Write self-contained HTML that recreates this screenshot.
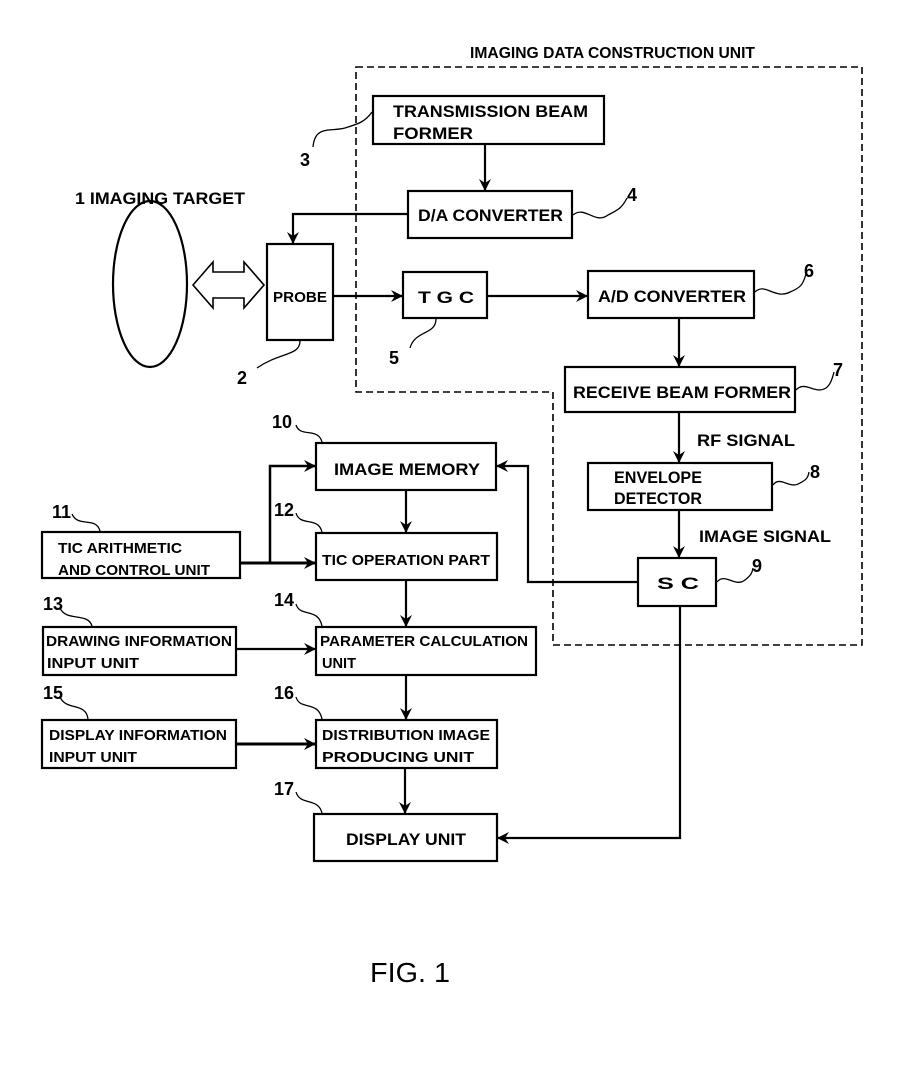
<!DOCTYPE html>
<html><head><meta charset="utf-8"><style>
html,body{margin:0;padding:0;background:#fff;}
svg{display:block;}
text{font-family:"Liberation Sans",sans-serif;fill:#000;font-weight:bold;}
</style></head><body>
<svg width="921" height="1087" viewBox="0 0 921 1087" xmlns="http://www.w3.org/2000/svg">
<defs>
<marker id="a" markerWidth="12" markerHeight="12" refX="11" refY="6" orient="auto" markerUnits="userSpaceOnUse">
<path d="M0,0 L12,6 L0,12 L4,6 Z" fill="#000"/>
</marker>
</defs>
<g font-size="17" stroke="none">
<path d="M356,67 H862 V645 H553 V392 H356 Z" fill="none" stroke="#000" stroke-width="1.6" stroke-dasharray="7,4"/>
<text x="470" y="58" textLength="285" lengthAdjust="spacingAndGlyphs" font-size="16">IMAGING DATA CONSTRUCTION UNIT</text>

<g fill="#fff" stroke="#000" stroke-width="2.2">
<rect x="373" y="96" width="231" height="48"/>
<rect x="408" y="191" width="164" height="47"/>
<rect x="267" y="244" width="66" height="96"/>
<rect x="403" y="272" width="84" height="46"/>
<rect x="588" y="271" width="166" height="47"/>
<rect x="565" y="367" width="230" height="45"/>
<rect x="588" y="463" width="184" height="47"/>
<rect x="638" y="558" width="78" height="48"/>
<rect x="316" y="443" width="180" height="47"/>
<rect x="316" y="533" width="181" height="47"/>
<rect x="42" y="532" width="198" height="46"/>
<rect x="316" y="627" width="220" height="48"/>
<rect x="43" y="627" width="193" height="48"/>
<rect x="316" y="720" width="181" height="48"/>
<rect x="42" y="720" width="194" height="48"/>
<rect x="314" y="814" width="183" height="47"/>
<ellipse cx="150" cy="284" rx="37" ry="83"/>
</g>

<path d="M193,285 L213,262 V272 H244 V262 L264,285 L244,308 V298 H213 V308 Z" fill="#fff" stroke="#000" stroke-width="1.6"/>

<g stroke="#000" stroke-width="2.2" fill="none" marker-end="url(#a)">
<path d="M485,144 V190"/>
<path d="M408,214 H293 V243"/>
<path d="M333,296 H402"/>
<path d="M487,296 H587"/>
<path d="M679,318 V366"/>
<path d="M679,412 V462"/>
<path d="M679,510 V557"/>
<path d="M638,582 H528 V466 H497"/>
<path d="M680,606 V838 H498"/>
<path d="M406,490 V532"/>
<path d="M406,580 V626"/>
<path d="M406,675 V719"/>
<path d="M405,768 V813"/>
<path d="M240,563 H315" stroke-width="3"/>
<path d="M270,563 V466 H315" stroke-width="2.5"/>
<path d="M236,649 H315"/>
<path d="M236,744 H315" stroke-width="3"/>
</g>

<text x="393" y="117" textLength="195" lengthAdjust="spacingAndGlyphs">TRANSMISSION BEAM</text>
<text x="393" y="139" textLength="80" lengthAdjust="spacingAndGlyphs">FORMER</text>
<text x="418" y="221" textLength="145" lengthAdjust="spacingAndGlyphs">D/A CONVERTER</text>
<text x="273" y="302" textLength="54" lengthAdjust="spacingAndGlyphs" font-size="15">PROBE</text>
<text x="418" y="303" textLength="56" lengthAdjust="spacingAndGlyphs">T G C</text>
<text x="598" y="302" textLength="148" lengthAdjust="spacingAndGlyphs">A/D CONVERTER</text>
<text x="573" y="398" textLength="218" lengthAdjust="spacingAndGlyphs">RECEIVE BEAM FORMER</text>
<text x="614" y="483" textLength="88" lengthAdjust="spacingAndGlyphs">ENVELOPE</text>
<text x="614" y="504" textLength="88" lengthAdjust="spacingAndGlyphs">DETECTOR</text>
<text x="657" y="589" textLength="42" lengthAdjust="spacingAndGlyphs">S C</text>
<text x="697" y="446" textLength="98" lengthAdjust="spacingAndGlyphs">RF SIGNAL</text>
<text x="699" y="542" textLength="132" lengthAdjust="spacingAndGlyphs">IMAGE SIGNAL</text>
<text x="75" y="204" textLength="170" lengthAdjust="spacingAndGlyphs">1 IMAGING TARGET</text>

<text x="334" y="475" textLength="146" lengthAdjust="spacingAndGlyphs">IMAGE MEMORY</text>
<text x="322" y="565" textLength="168" lengthAdjust="spacingAndGlyphs" font-size="15">TIC OPERATION PART</text>
<text x="58" y="553" textLength="124" lengthAdjust="spacingAndGlyphs" font-size="15">TIC ARITHMETIC</text>
<text x="58" y="575" textLength="152" lengthAdjust="spacingAndGlyphs" font-size="15">AND CONTROL UNIT</text>
<text x="320" y="646" textLength="208" lengthAdjust="spacingAndGlyphs" font-size="15">PARAMETER CALCULATION</text>
<text x="322" y="668" textLength="34" lengthAdjust="spacingAndGlyphs" font-size="15">UNIT</text>
<text x="46" y="646" textLength="186" lengthAdjust="spacingAndGlyphs" font-size="15">DRAWING INFORMATION</text>
<text x="47" y="668" textLength="92" lengthAdjust="spacingAndGlyphs" font-size="15">INPUT UNIT</text>
<text x="322" y="740" textLength="168" lengthAdjust="spacingAndGlyphs" font-size="15">DISTRIBUTION IMAGE</text>
<text x="322" y="762" textLength="152" lengthAdjust="spacingAndGlyphs" font-size="15">PRODUCING UNIT</text>
<text x="49" y="740" textLength="178" lengthAdjust="spacingAndGlyphs" font-size="15">DISPLAY INFORMATION</text>
<text x="49" y="762" textLength="88" lengthAdjust="spacingAndGlyphs" font-size="15">INPUT UNIT</text>
<text x="346" y="845" textLength="120" lengthAdjust="spacingAndGlyphs">DISPLAY UNIT</text>

<g stroke="#000" stroke-width="1.3" fill="none">
<path d="M313,147 C315,125 330,132 345,128 C358,124 365,122 372,112"/>
<path d="M573,215 C585,205 595,225 608,215 C618,210 622,208 627,198"/>
<path d="M755,292 C765,282 775,300 790,292 C800,288 803,285 806,274"/>
<path d="M436,319 C436,335 415,330 410,348"/>
<path d="M300,341 C300,356 280,352 257,368"/>
<path d="M796,390 C805,380 815,395 826,388 C830,385 832,380 834,372"/>
<path d="M773,485 C780,475 790,490 800,483 C806,480 808,478 809,472"/>
<path d="M717,582 C725,572 735,588 745,580 C750,576 752,574 753,568"/>
<path d="M296,425 C300,438 318,427 322,442"/>
<path d="M72,514 C78,528 96,516 100,531"/>
<path d="M296,513 C300,527 318,516 322,532"/>
<path d="M60,608 C66,622 88,612 92,626"/>
<path d="M296,604 C300,618 318,607 322,626"/>
<path d="M60,697 C66,711 86,702 88,719"/>
<path d="M296,697 C300,711 318,700 322,719"/>
<path d="M296,792 C300,806 318,797 322,813"/>
</g>
<g font-size="18">
<text x="300" y="166">3</text>
<text x="627" y="201">4</text>
<text x="804" y="277">6</text>
<text x="389" y="364">5</text>
<text x="237" y="384">2</text>
<text x="833" y="376">7</text>
<text x="810" y="478">8</text>
<text x="752" y="572">9</text>
<text x="272" y="428">10</text>
<text x="52" y="518">11</text>
<text x="274" y="516">12</text>
<text x="43" y="610">13</text>
<text x="274" y="606">14</text>
<text x="43" y="699">15</text>
<text x="274" y="699">16</text>
<text x="274" y="795">17</text>
</g>
<text x="370" y="982" textLength="80" lengthAdjust="spacingAndGlyphs" font-size="28" style="font-weight:normal">FIG. 1</text>
</g>
</svg>
</body></html>
